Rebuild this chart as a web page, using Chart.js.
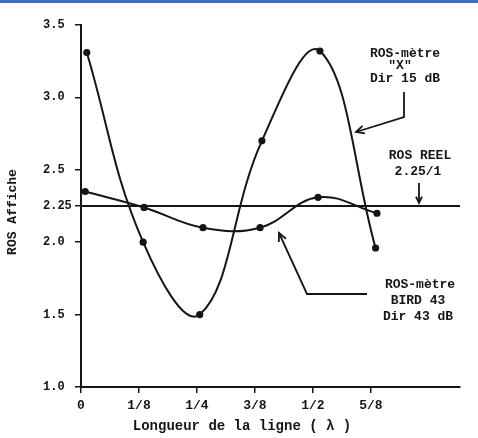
<!DOCTYPE html>
<html><head><meta charset="utf-8">
<script src="https://cdn.jsdelivr.net/npm/chart.js@4/dist/chart.umd.min.js"></script>
<style>
html,body{margin:0;padding:0;background:#fff;}
#wrap{position:relative;width:478px;height:438px;overflow:hidden;}
#bar{position:absolute;left:0;top:0;width:478px;height:3px;background:#3f6fc2;}
canvas{display:block;}
</style></head><body>
<div id="wrap"><canvas id="c" width="478" height="438"></canvas><div id="bar"></div></div>
<script>
// ---- data ----
const xTickValues = [0, 0.125, 0.25, 0.375, 0.5, 0.625];
const xTickLabels = ['0', '1/8', '1/4', '3/8', '1/2', '5/8'];
const yTickValues = [1.0, 1.5, 2.0, 2.25, 2.5, 3.0, 3.5];
const yTickLabels = ['1.0', '1.5', '2.0', '2.25', '2.5', '3.0', '3.5'];

// ROS-mètre "X" Dir 15 dB
const posX  = [0.0125, 0.134, 0.256, 0.390, 0.515, 0.635];
const rosX  = [3.31, 2.00, 1.50, 2.70, 3.32, 1.96];
// ROS-mètre BIRD 43 Dir 43 dB
const posBird = [0.009, 0.136, 0.263, 0.386, 0.511, 0.638];
const rosBird = [2.35, 2.24, 2.10, 2.10, 2.31, 2.20];
// ROS REEL 2.25/1
const posReel = [0, 0.817];
const rosReel = [2.25, 2.25];

const INK = '#151515';
const MONO = '"Liberation Mono", "DejaVu Sans Mono", monospace';

function pts(xs, ys){ return xs.map((x,i)=>({x:x, y:ys[i]})); }

function arrow(ctx, path, head){
  ctx.beginPath();
  ctx.moveTo(path[0][0], path[0][1]);
  for (let i=1;i<path.length;i++) ctx.lineTo(path[i][0], path[i][1]);
  ctx.stroke();
  const a = path[path.length-2], b = path[path.length-1];
  const ang = Math.atan2(b[1]-a[1], b[0]-a[0]);
  ctx.beginPath();
  ctx.moveTo(b[0] - head*Math.cos(ang-0.45), b[1] - head*Math.sin(ang-0.45));
  ctx.lineTo(b[0], b[1]);
  ctx.lineTo(b[0] - head*Math.cos(ang+0.45), b[1] - head*Math.sin(ang+0.45));
  ctx.stroke();
}

const annot = {
  id:'annot',
  afterDraw(chart){
    const ctx = chart.ctx;
    ctx.save();
    ctx.fillStyle = INK; ctx.strokeStyle = INK;
    ctx.textAlign = 'center'; ctx.textBaseline = 'middle';
    ctx.font = 'bold 13px ' + MONO;
    ctx.fillText('ROS-mètre', 405, 54);
    ctx.fillText('"X"', 400, 66);
    ctx.fillText('Dir 15 dB', 405, 79);
    ctx.fillText('ROS REEL', 420, 156);
    ctx.fillText('2.25/1', 418, 172);
    ctx.fillText('ROS-mètre', 420, 285);
    ctx.fillText('BIRD 43', 418, 301);
    ctx.fillText('Dir 43 dB', 418, 317);
    ctx.lineWidth = 1.8;
    arrow(ctx, [[404,92],[404,117],[356,132]], 9);
    arrow(ctx, [[419,183],[419,203]], 7);
    arrow(ctx, [[367,294],[307,294],[279,233]], 9);
    // axis titles
    ctx.font = 'bold 14px ' + MONO;
    ctx.fillText('Longueur de la ligne ( λ )', 242, 426);
    ctx.save();
    ctx.translate(13, 212);
    ctx.rotate(-Math.PI/2);
    ctx.font = 'bold 13px ' + MONO;
    ctx.fillText('ROS Affiche', 0, 0);
    ctx.restore();
    ctx.restore();
  }
};

const curve = {showLine:true, borderColor:INK, borderWidth:2, tension:0.4,
  pointRadius:3.6, pointBackgroundColor:INK, pointBorderColor:INK, pointBorderWidth:0};

new Chart(document.getElementById('c'), {
  type:'scatter',
  data:{datasets:[
    Object.assign({label:'ROS-mètre "X" Dir 15 dB', data:pts(posX, rosX)}, curve),
    Object.assign({label:'ROS-mètre BIRD 43 Dir 43 dB', data:pts(posBird, rosBird)}, curve),
    {label:'ROS REEL 2.25/1', data:pts(posReel, rosReel), showLine:true, borderColor:INK,
     borderWidth:1.8, pointRadius:0, tension:0}
  ]},
  options:{
    responsive:false, animation:false,
    layout:{padding:{top:25, right:18, left:43, bottom:0}},
    plugins:{legend:{display:false}, tooltip:{enabled:false}},
    scales:{
      x:{type:'linear', min:0, max:0.817,
        afterBuildTicks:s=>{ s.ticks = xTickValues.map(v=>({value:v})); },
        afterFit:s=>{ s.height = 51; },
        ticks:{callback:(v,i)=>xTickLabels[i], color:INK, padding:5, maxRotation:0, autoSkip:false,
          font:{family:MONO, size:13, weight:'bold'}},
        grid:{drawOnChartArea:false, drawTicks:true, tickLength:6, color:INK, lineWidth:1.5},
        border:{display:true, color:INK, width:2}
      },
      y:{type:'linear', min:1.0, max:3.5,
        afterBuildTicks:s=>{ s.ticks = yTickValues.map(v=>({value:v})); },
        afterFit:s=>{ s.width = 38; },
        ticks:{callback:(v,i)=>yTickLabels[i], color:INK, padding:3, autoSkip:false, crossAlign:'far',
          font:{family:MONO, size:12, weight:'bold'}},
        grid:{drawOnChartArea:false, drawTicks:true, tickLength:6, color:INK, lineWidth:1.5},
        border:{display:true, color:INK, width:2}
      }
    }
  },
  plugins:[annot]
});
</script>
</body></html>
